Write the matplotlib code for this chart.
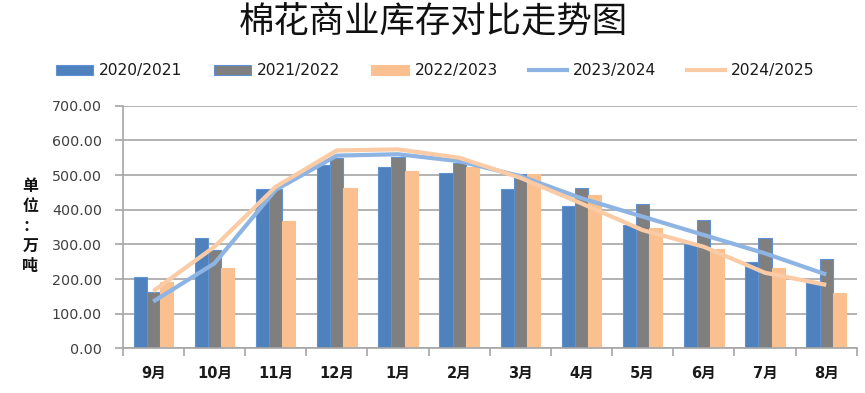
import matplotlib
matplotlib.use("Agg")
import matplotlib.pyplot as plt
import numpy as np
from matplotlib.patches import Patch
from matplotlib.lines import Line2D

plt.rcParams['font.family'] = ['DejaVu Sans', 'Noto Sans CJK SC']

months = ['9月', '10月', '11月', '12月', '1月', '2月', '3月', '4月', '5月', '6月', '7月', '8月']
s2020 = [207, 317, 459, 529, 524, 505, 459, 410, 356, 301, 250, 192]
s2021 = [163, 284, 459, 550, 553, 534, 503, 463, 416, 370, 319, 257]
s2022 = [192, 231, 367, 462, 512, 524, 503, 441, 348, 288, 231, 160]
s2023 = [135, 245, 457, 556, 560, 540, 497, 433, 380, 327, 274, 213]
s2024 = [165, 293, 466, 571, 574, 550, 492, 418, 341, 293, 218, 183]
yticks = [0, 100, 200, 300, 400, 500, 600, 700]

c_blue = '#4F81BD'
c_gray = '#7F7F7F'
c_orange = '#FAC090'
c_line1 = '#8DB4E2'
c_line2 = '#FBCBA6'
c_grid = '#A6A6A6'
c_text = '#404040'

fig = plt.figure(figsize=(8.65, 3.93), dpi=100)
ax = fig.add_axes([0.1418, 0.1137, 0.8487, 0.6173])

x = np.arange(len(months))
w = 0.215
ax.bar(x - w, s2020, w, color=c_blue, edgecolor='#5E92D4', linewidth=0.8, zorder=2)
ax.bar(x, s2021, w, color=c_gray, edgecolor='#5E92D4', linewidth=0.8, zorder=2)
ax.bar(x + w, s2022, w, color=c_orange, edgecolor=c_orange, linewidth=0.8, zorder=2)

ax.plot(x, s2023, color=c_line1, linewidth=3, solid_joinstyle='round',
        solid_capstyle='butt', zorder=3)
ax.plot(x, s2024, color=c_line2, linewidth=3, solid_joinstyle='round',
        solid_capstyle='butt', zorder=3)

ax.set_xlim(-0.5, len(months) - 0.5)
ax.set_ylim(0, 700)
ax.set_yticks(yticks)
ax.set_yticklabels([f'{v:.2f}' for v in yticks])
ax.yaxis.grid(True, color=c_grid, linewidth=1.2, zorder=0)
ax.set_axisbelow(True)

ax.set_xticks(x)
ax.set_xticklabels(months)
ax.set_xticks(np.arange(-0.5, len(months)), minor=True)
ax.tick_params(axis='x', which='major', length=0, pad=13, labelsize=10.5, labelcolor='#1a1a1a')
ax.tick_params(axis='x', which='minor', length=6, width=1.2, color=c_grid, direction='out')
for lab in ax.get_xticklabels():
    lab.set_fontweight('bold')
ax.tick_params(axis='y', length=6, width=1.2, color=c_grid, pad=9, labelsize=10.3, labelcolor=c_text)

for s in ['top', 'right']:
    ax.spines[s].set_visible(False)
for s in ['left', 'bottom']:
    ax.spines[s].set_color(c_grid)
    ax.spines[s].set_linewidth(1.2)

fig.text(0.5006, 0.918, '棉花商业库存对比走势图', ha='center', va='baseline',
         fontsize=25.5, fontweight='medium', family=['Noto Sans CJK SC'], color='#111111')

fig.text(0.035, 0.425, '\n'.join('单位：万吨'), ha='center', va='center', fontsize=11.5,
         fontweight='bold', family=['Noto Sans CJK SC'], linespacing=1.3, color='#111111')

handles = [
    Patch(facecolor=c_blue, edgecolor='#5E92D4', linewidth=0.8),
    Patch(facecolor=c_gray, edgecolor='#5E92D4', linewidth=0.8),
    Patch(facecolor=c_orange, edgecolor=c_orange, linewidth=0.8),
    Line2D([], [], color=c_line1, linewidth=3),
    Line2D([], [], color=c_line2, linewidth=3),
]
labels = ['2020/2021', '2021/2022', '2022/2023', '2023/2024', '2024/2025']
fig.legend(handles, labels, loc='center', bbox_to_anchor=(0.503, 0.82), ncol=5,
           frameon=False, fontsize=11.2, handlelength=2.4, handleheight=0.6,
           handletextpad=0.4, columnspacing=2.0, labelcolor='#1a1a1a')

fig.savefig('out.png', dpi=100)
